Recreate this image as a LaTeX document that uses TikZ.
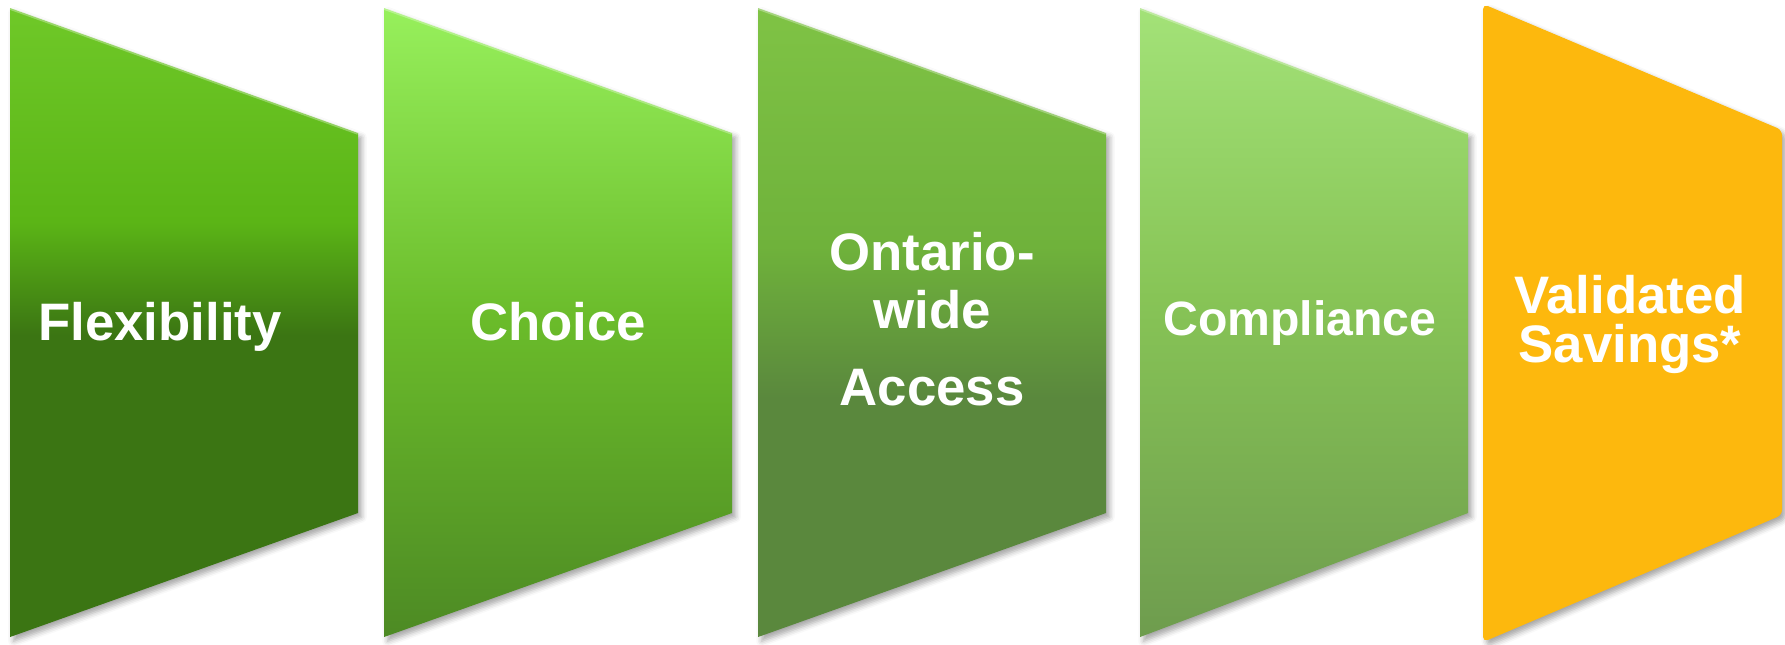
\documentclass[tikz,border=0pt]{standalone}
\usepackage{fontspec}
\setmainfont{Liberation Sans}
\usetikzlibrary{shadows.blur}

% Panel colours
\definecolor{flextop}{HTML}{6FC828}
\definecolor{flexmid}{HTML}{5BB516}
\definecolor{flexbot}{HTML}{3B7513}
\definecolor{choicetop}{HTML}{97F05C}
\definecolor{choicemid}{HTML}{6ABB2A}
\definecolor{choicebot}{HTML}{4D8A24}
\definecolor{ontariotop}{HTML}{7FC345}
\definecolor{ontariomid}{HTML}{6FB23B}
\definecolor{ontariobot}{HTML}{5A883D}
\definecolor{compltop}{HTML}{A3E278}
\definecolor{complmid}{HTML}{87C456}
\definecolor{complbot}{HTML}{6E9C4E}
\definecolor{savefill}{HTML}{FDB80D}

\pgfdeclareverticalshading{flex-shade}{100bp}{color(0bp)=(flexbot); color(49bp)=(flexbot); color(58bp)=(flexmid); color(75bp)=(flextop); color(100bp)=(flextop)}
\pgfdeclareverticalshading{choice-shade}{100bp}{color(0bp)=(choicebot); color(25bp)=(choicebot); color(50bp)=(choicemid); color(75bp)=(choicetop); color(100bp)=(choicetop)}
\pgfdeclareverticalshading{ontario-shade}{100bp}{color(0bp)=(ontariobot); color(44bp)=(ontariobot); color(56bp)=(ontariomid); color(75bp)=(ontariotop); color(100bp)=(ontariotop)}
\pgfdeclareverticalshading{compl-shade}{100bp}{color(0bp)=(complbot); color(25bp)=(complbot); color(52bp)=(complmid); color(75bp)=(compltop); color(100bp)=(compltop)}

\tikzset{
  panel/.style={blur shadow={shadow xshift=1pt, shadow yshift=-1.2pt,
      shadow blur radius=1.5pt, shadow opacity=35}},
  bevel/.style={white, opacity=0.3, line width=1pt},
  panellabel/.style={text=white, anchor=base, inner sep=0pt,
      font=\bfseries\fontsize{15}{15}\selectfont}
}

\begin{document}
\begin{tikzpicture}[x=0.01cm, y=-0.01cm]
    \useasboundingbox (0,0) rectangle (1785,644);

    % Define panel corners
    \foreach \name/\xl/\xr in {flex/10/358, choice/384/732, ontario/758/1106, compl/1140/1468} {
        \coordinate (\name-tl) at (\xl,8);
        \coordinate (\name-tr) at (\xr,133);
        \coordinate (\name-br) at (\xr,513);
        \coordinate (\name-bl) at (\xl,637);
    }
    \coordinate (save-tl) at (1483,4);
    \coordinate (save-tr) at (1782,130);
    \coordinate (save-br) at (1782,515);
    \coordinate (save-bl) at (1483,642);

    % Draw panels
    \foreach \name in {flex,choice,ontario,compl} {
        \shade[shading=\name-shade, panel] (\name-tl) -- (\name-tr) -- (\name-br) -- (\name-bl) -- cycle;
        \draw[bevel] (\name-tl) -- (\name-tr);
    }
    \fill[savefill, panel, rounded corners=1.5pt] (save-tl) -- (save-tr) -- (save-br) -- (save-bl) -- cycle;

    % Labels
    \node[panellabel] (flexlbl) at (160,340) {Flexibility};
    \node[panellabel] (choicelbl) at (558,340) {Choice};
    \node[panellabel] (ontariolbl1) at (932,270) {Ontario-};
    \node[panellabel] (ontariolbl2) at (932,328) {wide};
    \node[panellabel] (ontariolbl3) at (932,405) {Access};
    \node[panellabel, font=\bfseries\fontsize{13.7}{14}\selectfont] (compllbl) at (1300,335) {Compliance};
    \node[panellabel] (savelbl1) at (1630,313) {Validated};
    \node[panellabel] (savelbl2) at (1630,362) {Savings*};
\end{tikzpicture}
\end{document}
